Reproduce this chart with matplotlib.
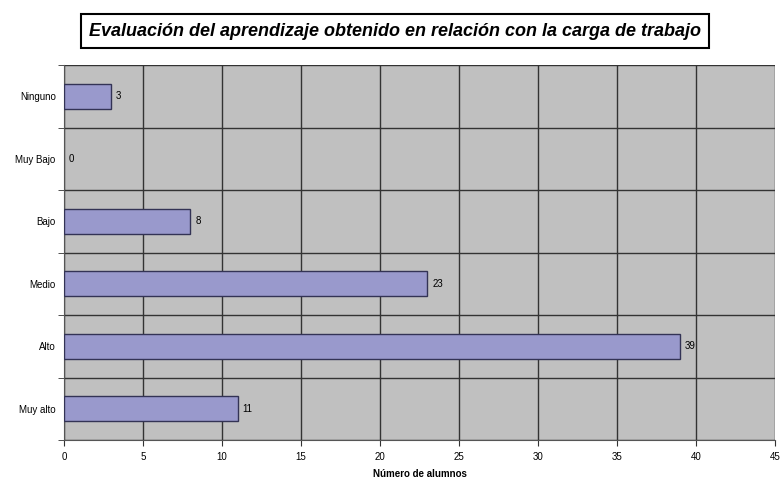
import matplotlib
matplotlib.use("Agg")
import matplotlib.pyplot as plt
import numpy as np

categories = ["Ninguno", "Muy Bajo", "Bajo", "Medio", "Alto", "Muy alto"]
values = [3, 0, 8, 23, 39, 11]
xticks = [0, 5, 10, 15, 20, 25, 30, 35, 40, 45]

plt.rcParams['font.family'] = ['Liberation Sans', 'DejaVu Sans']

fig = plt.figure(figsize=(7.82, 4.79), dpi=100)
ax = fig.add_axes([64/782, 1-440/479, (775-64)/782, (440-65)/479])
ax.set_facecolor('#c0c0c0')

n = len(categories)
ypos = np.arange(n)[::-1]
bars = ax.barh(ypos, values, height=0.4, color='#9999cc', edgecolor='#333355', linewidth=1.0, zorder=3)
for b, v in zip(bars, values):
    if v == 0:
        b.set_linewidth(0)
for y, v in zip(ypos, values):
    ax.text(v + 0.3, y, str(v), va='center', ha='left', fontsize=7, zorder=4)

ax.set_xlim(0, 45)
ax.set_ylim(-0.5, n - 0.5)
ax.set_xticks(xticks)
ax.set_xticklabels([str(t) for t in xticks], fontsize=7)
ax.set_yticks(ypos)
ax.set_yticklabels(categories, fontsize=7)
ax.tick_params(axis='y', length=0, pad=6)
ax.set_yticks(np.arange(n + 1) - 0.5, minor=True)
ax.tick_params(axis='y', which='minor', length=4, color='#333333')
ax.tick_params(axis='x', length=4, color='#333333', pad=5)
ax.grid(True, axis='x', which='major', color='#333333', linewidth=1.0, zorder=1)
ax.grid(True, axis='y', which='minor', color='#333333', linewidth=1.0, zorder=1)
for s in ['top', 'right']:
    ax.spines[s].set_visible(False)
ax.spines['left'].set_color('#555555')
ax.spines['bottom'].set_color('#555555')

ax.set_xlabel("Número de alumnos", fontsize=7, fontweight='bold', labelpad=5)

fig.text(395/782, 1-31/479, "Evaluación del aprendizaje obtenido en relación con la carga de trabajo",
         ha='center', va='center', fontsize=13, fontweight='bold', style='italic',
         bbox=dict(boxstyle='square,pad=0.45', facecolor='white', edgecolor='black', linewidth=1.5))

fig.savefig("out.png", dpi=100)
